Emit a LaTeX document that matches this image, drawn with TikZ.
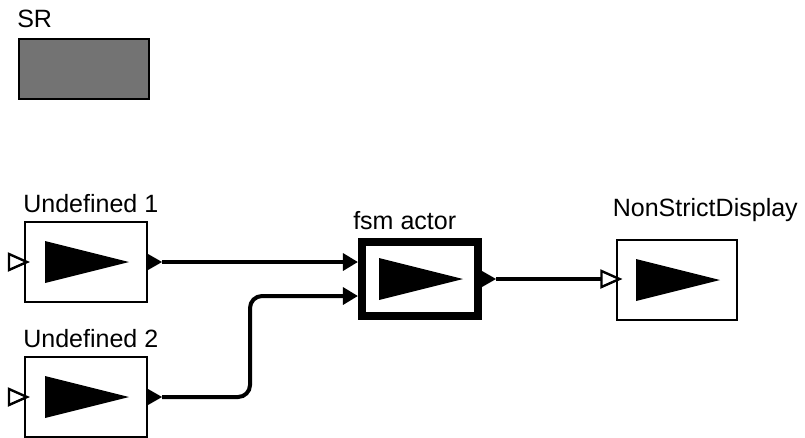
\documentclass[tikz,border=0pt]{standalone}
\usepackage{fontspec}
\setmainfont{Liberation Sans}
\usetikzlibrary{arrows.meta,positioning}

\begin{document}
\begin{tikzpicture}[
  x=0.025cm, y=-0.025cm,
  box/.style={draw, line width=0.05cm, fill=white, inner sep=0pt,
              minimum width=3.05cm, minimum height=1.98cm},
  tag/.style={anchor=base west, inner sep=0pt, font=\fontsize{17.8}{20}\selectfont},
  wire/.style={line width=0.1cm, -{Triangle[length=0.375cm, width=0.42cm]}},
  glyph/.pic={\fill (-41,-21) -- (-41,21) -- (43,0) -- cycle;},
  inport/.pic={\draw[line width=0.06cm, fill=white] (0,0) -- (-18,-8) -- (-18,8) -- cycle;},
  outport/.pic={\fill (0,-8) -- (14,0) -- (0,8) -- cycle;},
]
\useasboundingbox (0,0) rectangle (805,437);
% Nodes
\node[box, fill=black!55, minimum width=3.25cm, minimum height=1.5cm] (sr) at (84,69) {};
\node[box] (u1)  at (86,262) {};
\node[box] (u2)  at (86,397) {};
\node[box, line width=0.2cm, minimum width=2.9cm, minimum height=1.85cm] (fsm) at (420,279) {};
\node[box, minimum width=2.975cm, minimum height=2cm] (nsd) at (677,280) {};
% Names
\node[tag] (srtag)  at ([shift={(-1,-10)}]sr.north west)  {SR};
\node[tag] (u1tag)  at ([shift={(-1,-9)}]u1.north west)   {Undefined 1};
\node[tag] (u2tag)  at ([shift={(-1,-9)}]u2.north west)   {Undefined 2};
\node[tag] (fsmtag) at ([shift={(-5,-8)}]fsm.north west)  {fsm actor};
\node[tag] (nsdtag) at ([shift={(-4,-22)}]nsd.north west) {NonStrictDisplay};
% Glyphs and ports
\foreach \a in {u1,u2,fsm,nsd} \path (\a.center) pic {glyph};
\foreach \a in {u1,u2} \path ([shift={(3,0)}]\a.west) pic {inport};
\path ([shift={(3,0)}]nsd.west |- fsm.east) pic {inport};
\foreach \a in {u1,u2,fsm} {
  \path (\a.east) pic {outport};
  \coordinate (\a-out) at ([shift={(14,0)}]\a.east);
}
\coordinate (fsm-in1) at ([shift={(0,-17)}]fsm.west);
\coordinate (fsm-in2) at ([shift={(0,17)}]fsm.west);
\coordinate (nsd-in)  at ([shift={(-15,0)}]nsd.west);
% Arrows
\draw[wire] (u1-out) -- (u1-out -| fsm-in1);
\draw[wire, rounded corners=0.3cm] (u2-out) -- ++(88,0) |- (fsm-in2);
\draw[line width=0.1cm] (fsm-out) -- (fsm-out -| nsd-in);
\end{tikzpicture}
\end{document}
